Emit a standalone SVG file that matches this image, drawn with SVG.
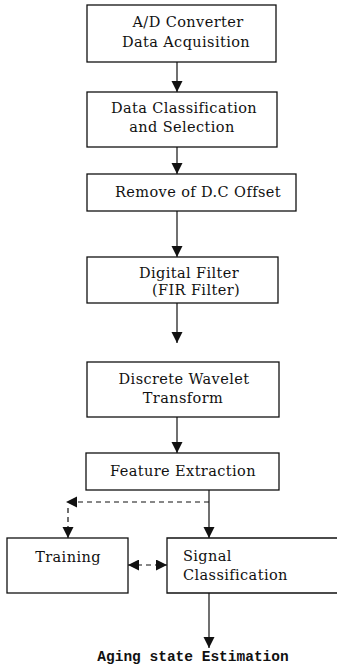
<svg xmlns="http://www.w3.org/2000/svg" width="337" height="672" viewBox="0 0 337 672">
<style>
.box{fill:#fff;stroke:#111;stroke-width:1.3}
.t{font-family:"DejaVu Serif","Liberation Serif",serif;font-size:14.5px;letter-spacing:0.4px;fill:#111;text-anchor:middle;dominant-baseline:central}
.tl{text-anchor:start}
.ln{stroke:#111;stroke-width:1.2;fill:none}
.dash{stroke-dasharray:5 4}
.out{font-family:"Liberation Mono","DejaVu Sans Mono",monospace;font-weight:bold;font-size:14.5px;fill:#111;text-anchor:middle;dominant-baseline:central}
</style>
<defs>
<marker id="ah" markerUnits="userSpaceOnUse" markerWidth="12" markerHeight="12" refX="11" refY="5.5" orient="auto">
<path d="M0,0 L11,5.5 L0,11 z" fill="#111"/>
</marker>
<marker id="ahs" markerUnits="userSpaceOnUse" markerWidth="12" markerHeight="12" refX="0" refY="5.5" orient="auto">
<path d="M11,0 L0,5.5 L11,11 z" fill="#111"/>
</marker>
</defs>
<rect width="337" height="672" fill="#fff"/>
<g id="connectors">
<line class="ln" x1="177" y1="62" x2="177" y2="92" marker-end="url(#ah)"/>
<line class="ln" x1="177" y1="147" x2="177" y2="174" marker-end="url(#ah)"/>
<line class="ln" x1="177" y1="211" x2="177" y2="257" marker-end="url(#ah)"/>
<line class="ln" x1="177" y1="303" x2="177" y2="343" marker-end="url(#ah)"/>
<line class="ln" x1="177" y1="417" x2="177" y2="453" marker-end="url(#ah)"/>
<line class="ln" x1="209" y1="490" x2="209" y2="538" marker-end="url(#ah)"/>
<line class="ln dash" x1="209" y1="502" x2="66" y2="502" marker-end="url(#ah)"/>
<line class="ln dash" x1="68" y1="508" x2="68" y2="538" marker-end="url(#ah)"/>
<line class="ln dash" x1="128" y1="565" x2="167" y2="565" marker-start="url(#ahs)" marker-end="url(#ah)"/>
<line class="ln" x1="209" y1="593" x2="209" y2="648" marker-end="url(#ah)"/>
</g>
<g id="n1"><rect class="box" x="87" y="5" width="189" height="57"/><text class="t" x="188" y="22">A/D Converter</text><text class="t" x="186" y="42">Data  Acquisition</text></g>
<g id="n2"><rect class="box" x="87" y="92" width="190" height="55"/><text class="t" x="184" y="108">Data Classification</text><text class="t" x="182" y="127">and Selection</text></g>
<g id="n3"><rect class="box" x="87" y="174" width="209" height="37"/><text class="t" x="198" y="192">Remove of D.C Offset</text></g>
<g id="n4"><rect class="box" x="87" y="257" width="191" height="46"/><text class="t" x="189" y="273">Digital Filter</text><text class="t" x="196" y="290">(FIR Filter)</text></g>
<g id="n5"><rect class="box" x="87" y="362" width="192" height="55"/><text class="t" x="184" y="379">Discrete Wavelet</text><text class="t" x="183" y="398">Transform</text></g>
<g id="n6"><rect class="box" x="86" y="453" width="193" height="37"/><text class="t" x="183" y="471">Feature Extraction</text></g>
<g id="n7"><rect class="box" x="7" y="538" width="121" height="55"/><text class="t" x="68" y="557">Training</text></g>
<g id="n8"><path class="box" d="M340,538 H167 V593 H340"/><text class="t tl" x="183" y="556">Signal</text><text class="t tl" x="183" y="575">Classification</text></g>
<g id="n9"><text class="out" x="193" y="657">Aging state Estimation</text></g>
</svg>
